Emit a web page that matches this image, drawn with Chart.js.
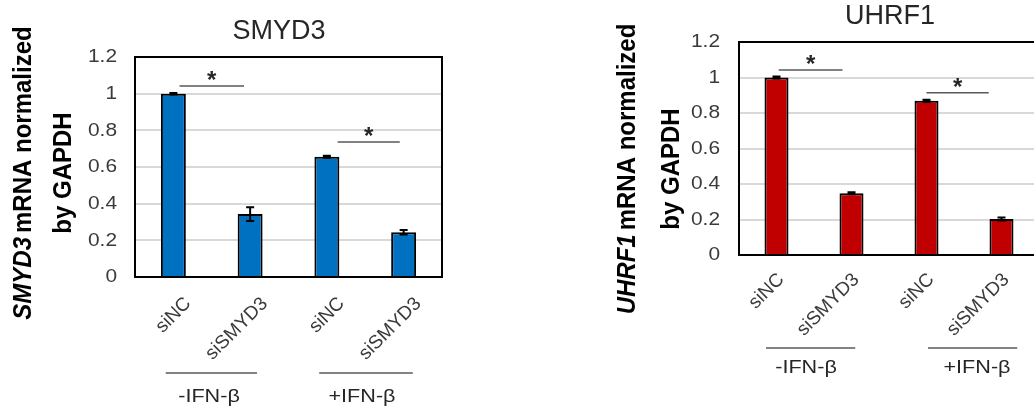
<!DOCTYPE html>
<html>
<head>
<meta charset="utf-8">
<script src="https://cdn.jsdelivr.net/npm/chart.js@4.4.1/dist/chart.umd.min.js"></script>
<style>
    html, body { margin: 0; padding: 0; background: #fff; overflow: hidden; }
    body { width: 1034px; height: 411px; position: relative; }
    canvas { position: absolute; top: 0; }
    #smyd3Chart { left: 0; }
    #uhrf1Chart { left: 560px; }
</style>
</head>
<body>
<canvas id="smyd3Chart" width="517" height="411"></canvas>
<canvas id="uhrf1Chart" width="490" height="411"></canvas>
<script>
// data
const sampleLabels = ['siNC', 'siSMYD3', 'siNC', 'siSMYD3'];
const treatmentLabels = ['-IFN-β', '+IFN-β'];
const yTickLabels = ['0', '0.2', '0.4', '0.6', '0.8', '1', '1.2'];

const smyd3Values = [1.0, 0.343, 0.656, 0.244];
const smyd3Errors = [0.004, 0.037, 0.006, 0.012];
const smyd3StarLevels = [1.042, 0.736];

const uhrf1Values = [1.0, 0.348, 0.869, 0.203];
const uhrf1Errors = [0.006, 0.006, 0.005, 0.008];
const uhrf1StarLevels = [1.042, 0.914];

const FONT = "'Liberation Sans', Arial, sans-serif";

// pixel for a fractional category position (0 = first bar centre)
function catX(scale, pos) {
    const p0 = scale.getPixelForValue(0);
    const step = scale.getPixelForValue(1) - p0;
    return p0 + pos * step;
}

// the source figure has slightly wide lettering, so flat text gets a small x stretch
function wideText(ctx, text, x, y, sx) {
    ctx.save();
    ctx.translate(x, y);
    ctx.scale(sx, 1);
    ctx.fillText(text, 0, 0);
    ctx.restore();
}

const decorPlugin = {
    id: 'decor',
    afterDraw(chart, args, o) {
        const { ctx, chartArea: a, scales: { x, y } } = chart;
        const values = chart.data.datasets[0].data;
        ctx.save();

        // error bars
        ctx.strokeStyle = '#000';
        ctx.lineWidth = 2;
        values.forEach((v, i) => {
            const cx = x.getPixelForValue(i);
            const top = y.getPixelForValue(v + o.errors[i]);
            const bot = y.getPixelForValue(v - o.errors[i]);
            ctx.beginPath();
            ctx.moveTo(cx, top); ctx.lineTo(cx, bot);
            ctx.moveTo(cx - 4, top); ctx.lineTo(cx + 4, top);
            ctx.moveTo(cx - 4, bot); ctx.lineTo(cx + 4, bot);
            ctx.stroke();
        });

        // plot frame
        ctx.strokeRect(a.left, a.top, a.width, a.height);

        // y tick labels
        ctx.fillStyle = '#3a3a3a';
        ctx.font = `19px ${FONT}`;
        ctx.textAlign = 'right';
        ctx.textBaseline = 'middle';
        yTickLabels.forEach(t => {
            wideText(ctx, t, a.left - o.tickPad, y.getPixelForValue(parseFloat(t)), 1.1);
        });

        // significance lines and stars
        o.stars.forEach(s => {
            const yy = y.getPixelForValue(s.level);
            const x1 = catX(x, s.from), x2 = catX(x, s.to);
            ctx.strokeStyle = '#595959';
            ctx.lineWidth = 1.5;
            ctx.beginPath();
            ctx.moveTo(x1, yy); ctx.lineTo(x2, yy);
            ctx.stroke();
            ctx.fillStyle = '#262626';
            ctx.font = `bold 24px ${FONT}`;
            ctx.textAlign = 'center';
            ctx.textBaseline = 'alphabetic';
            ctx.fillText('*', (x1 + x2) / 2, yy + 2);
        });

        // rotated sample labels
        ctx.fillStyle = '#3a3a3a';
        ctx.font = `19px ${FONT}`;
        ctx.textAlign = 'right';
        ctx.textBaseline = 'top';
        chart.data.labels.forEach((lab, i) => {
            ctx.save();
            ctx.translate(x.getPixelForValue(i) + o.labelDx, a.bottom + o.labelDy);
            ctx.rotate(-Math.PI / 4);
            ctx.fillText(lab, 0, 0);
            ctx.restore();
        });

        // treatment group lines and labels
        ctx.font = `18px ${FONT}`;
        ctx.textAlign = 'center';
        ctx.textBaseline = 'middle';
        o.groups.forEach((g, i) => {
            const x1 = catX(x, g.from), x2 = catX(x, g.to);
            ctx.strokeStyle = '#595959';
            ctx.lineWidth = 1.5;
            ctx.beginPath();
            ctx.moveTo(x1, o.groupLineY); ctx.lineTo(x2, o.groupLineY);
            ctx.stroke();
            ctx.fillStyle = '#262626';
            wideText(ctx, treatmentLabels[i], g.labelX, o.groupLabelY, 1.2);
        });

        // chart title
        ctx.fillStyle = '#262626';
        ctx.font = `27px ${FONT}`;
        ctx.fillText(o.title, o.titleX, o.titleY);

        // y axis title, gene name in italics
        ctx.save();
        ctx.translate(o.yTitleX, o.yTitleY);
        ctx.rotate(-Math.PI / 2);
        ctx.scale(1, 1.1);
        ctx.fillStyle = '#000';
        ctx.textBaseline = 'middle';
        ctx.textAlign = 'left';
        const italic = `italic bold 24px ${FONT}`;
        const bold = `bold 24px ${FONT}`;
        ctx.font = italic;
        const w1 = ctx.measureText(o.gene).width;
        ctx.font = bold;
        const rest = 'mRNA normalized';
        const w2 = ctx.measureText(rest).width;
        const gap = 4;
        const start = -(w1 + gap + w2) / 2;
        ctx.font = italic;
        ctx.fillText(o.gene, start, 0);
        ctx.font = bold;
        ctx.fillText(rest, start + w1 + gap, 0);
        ctx.textAlign = 'center';
        ctx.fillText('by GAPDH', 0, o.yTitleGap);
        ctx.restore();

        ctx.restore();
    }
};

function makeChart(id, values, color, layout, decor) {
    return new Chart(document.getElementById(id), {
        type: 'bar',
        data: {
            labels: sampleLabels,
            datasets: [{
                data: values,
                backgroundColor: color,
                borderColor: '#000',
                borderWidth: 2,
                borderSkipped: 'bottom',
                barPercentage: layout.barPct,
                categoryPercentage: 1
            }]
        },
        options: {
            responsive: false,
            animation: false,
            devicePixelRatio: 1,
            layout: { padding: { top: layout.top, right: layout.right, left: 0, bottom: 0 } },
            plugins: {
                legend: { display: false },
                tooltip: { enabled: false },
                decor
            },
            scales: {
                x: {
                    grid: { display: false },
                    border: { display: false },
                    ticks: { display: false },
                    afterFit(s) { s.height = layout.xHeight; }
                },
                y: {
                    min: 0,
                    max: 1.2,
                    border: { display: false },
                    grid: { color: '#d9d9d9', lineWidth: 2, drawTicks: false },
                    ticks: { stepSize: 0.2, display: false },
                    afterFit(s) { s.width = layout.yWidth; }
                }
            }
        },
        plugins: [decorPlugin]
    });
}

makeChart('smyd3Chart', smyd3Values, '#0070c0',
    { barPct: 0.325, top: 57, right: 75, xHeight: 134, yWidth: 135 },
    {
        errors: smyd3Errors,
        tickPad: 18,
        stars: [
            { from: 0.08, to: 0.92, level: smyd3StarLevels[0] },
            { from: 2.14, to: 2.95, level: smyd3StarLevels[1] }
        ],
        groups: [
            { from: -0.1, to: 1.09, labelX: 209 },
            { from: 1.9, to: 3.12, labelX: 362 }
        ],
        groupLineY: 373, groupLabelY: 397,
        labelDx: 8, labelDy: 17,
        title: 'SMYD3', titleX: 279, titleY: 32,
        gene: 'SMYD3', yTitleX: 24, yTitleY: 173, yTitleGap: 36
    });

makeChart('uhrf1Chart', uhrf1Values, '#c00000',
    { barPct: 0.32, top: 42, right: 11, xHeight: 156, yWidth: 179 },
    {
        errors: uhrf1Errors,
        tickPad: 19,
        stars: [
            { from: 0.03, to: 0.88, level: uhrf1StarLevels[0] },
            { from: 2.0, to: 2.83, level: uhrf1StarLevels[1] }
        ],
        groups: [
            { from: -0.14, to: 1.05, labelX: 246 },
            { from: 2.02, to: 3.21, labelX: 417 }
        ],
        groupLineY: 348, groupLabelY: 368,
        labelDx: -2, labelDy: 15,
        title: 'UHRF1', titleX: 330, titleY: 17,
        gene: 'UHRF1', yTitleX: 68, yTitleY: 169, yTitleGap: 40
    });
</script>
</body>
</html>
